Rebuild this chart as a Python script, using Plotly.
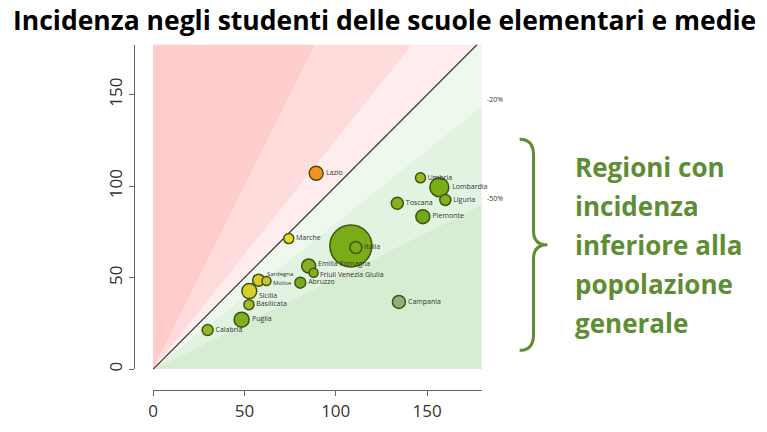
import plotly.graph_objects as go

W, H = 767, 432

# ---- data ----
regions = ["Lazio", "Marche", "", "Italia", "Umbria", "Lombardia", "Liguria", "Toscana",
           "Piemonte", "Emilia Romagna", "Friuli Venezia Giulia", "Abruzzo", "Sardegna",
           "Molise", "Sicilia", "Basilicata", "Puglia", "Calabria", "Campania"]
pop_incidence = [89.3, 74.3, 108.3, 111.0, 146.4, 156.7, 160.0, 133.7,
                 147.7, 85.2, 87.9, 80.6, 57.8, 62.1, 52.7, 52.5, 48.5, 29.9, 134.6]
student_incidence = [107.1, 71.4, 67.4, 66.5, 104.6, 99.5, 92.5, 90.7,
                     83.4, 56.4, 52.7, 47.3, 48.7, 48.2, 42.7, 35.3, 27.1, 21.4, 36.8]
bubble_size = [14, 10, 42, 12, 10, 19, 11, 12, 14, 14, 9, 11, 12, 9, 15, 10, 15, 11, 13]
point_colors = ["#f39222", "#ecd627", "#7aac17", "rgba(0,0,0,0)", "#9cb928", "#7aac18",
                "#84b020", "#86b01e", "#74a81c", "#86b022", "#84b022", "#7aab1e",
                "#d6cb2a", "#c8c42a", "#d8cf2a", "#a6b92a", "#7fae22", "#98b626", "#8fb07a"]

band_ratios = [0.5, 0.8, 1.0, 1.25, 2.0]
band_labels = {0.8: "-20%", 0.5: "-50%"}
band_colors = ["#d6edd4", "#e3f3e1", "#eef8ed", "#ffeded", "#ffdcdc", "#ffcccc"]

ax_max = 180
x_ticks = [0, 50, 100, 150]
y_ticks = [0, 50, 100, 150]

# label nudges (style only) for crowded labels: name -> (xshift, yshift, size)
label_nudge = {"Emilia Romagna": (0, 3, 7), "Friuli Venezia Giulia": (0, -2, 7),
               "Sardegna": (0, 6, 6), "Molise": (0, -2, 6), "Sicilia": (0, -4, 7)}

# ---- helpers (pixel -> paper) ----
def PX(px):
    return px / W

def PY(py):
    return 1 - py / H

fig = go.Figure()

# bands between ratio lines
def edge(r):
    if r is None:
        return [(0, ax_max)]
    if r * ax_max <= ax_max:
        return [(ax_max, r * ax_max)]
    return [(ax_max / r, ax_max)]

bounds = [0.0] + band_ratios + [None]
for i in range(len(bounds) - 1):
    lo, hi = bounds[i], bounds[i + 1]
    pts = [(0, 0)]
    if lo == 0:
        pts.append((ax_max, 0))
    else:
        pts += edge(lo)
    lo_pt = pts[-1]
    hi_pts = edge(hi)
    if lo_pt[0] == ax_max and hi_pts[0][1] == ax_max:
        pts.append((ax_max, ax_max))
    pts += hi_pts
    pts.append((0, 0))
    fig.add_trace(go.Scatter(x=[p[0] for p in pts], y=[p[1] for p in pts],
                             mode="lines", fill="toself", fillcolor=band_colors[i],
                             line=dict(width=0), hoverinfo="skip", showlegend=False))

# diagonal
fig.add_trace(go.Scatter(x=[0, ax_max], y=[0, ax_max], mode="lines",
                         line=dict(color="#3a3a3a", width=1.3),
                         hoverinfo="skip", showlegend=False))

# bubbles
trace_text = ["" if r in label_nudge else r for r in regions]
fig.add_trace(go.Scatter(
    x=pop_incidence, y=student_incidence, mode="markers+text",
    text=trace_text, textposition="middle right",
    textfont=dict(size=7, color="#333333", family="Open Sans"),
    marker=dict(size=bubble_size, color=point_colors, opacity=1,
                line=dict(color="#3c5510", width=1.5)),
    showlegend=False, cliponaxis=False))

for name, (dx, dy, fs) in label_nudge.items():
    k = regions.index(name)
    fig.add_annotation(x=pop_incidence[k], y=student_incidence[k], text=name,
                       showarrow=False, xanchor="left", yanchor="middle",
                       xshift=bubble_size[k] / 2 + 1 + dx, yshift=dy,
                       borderpad=0,
                       font=dict(size=fs, color="#333333", family="Open Sans"))

# band labels
for r, t in band_labels.items():
    fig.add_annotation(x=ax_max, y=r * ax_max, text=t, showarrow=False,
                       xanchor="left", yanchor="middle", xshift=3, yshift=6,
                       font=dict(size=7, color="#333333", family="Open Sans"))

# title
fig.add_annotation(x=PX(6), y=PY(20), xref="paper", yref="paper",
                   text="<b>Incidenza negli studenti delle scuole elementari e medie</b>",
                   showarrow=False, xanchor="left", yanchor="middle",
                   font=dict(size=26.5, color="#000000", family="Open Sans"))

# side text
side_lines = ["Regioni con", "incidenza", "inferiore alla", "popolazione", "generale"]
for i, s in enumerate(side_lines):
    fig.add_annotation(x=PX(572), y=PY(168 + i * 39.2), xref="paper", yref="paper",
                       text="<b>" + s + "</b>", showarrow=False,
                       xanchor="left", yanchor="middle",
                       font=dict(size=26, color="#5e8d35", family="Open Sans"))

# brace
xb0, xb1, xb2 = 518, 532, 546
yt, ym, yb = 140, 246, 352
path = (f"M {PX(xb0)},{PY(yt)} "
        f"Q {PX(xb1)},{PY(yt)} {PX(xb1)},{PY(yt + 16)} "
        f"L {PX(xb1)},{PY(ym - 14)} "
        f"Q {PX(xb1)},{PY(ym)} {PX(xb2)},{PY(ym)} "
        f"Q {PX(xb1)},{PY(ym)} {PX(xb1)},{PY(ym + 14)} "
        f"L {PX(xb1)},{PY(yb - 16)} "
        f"Q {PX(xb1)},{PY(yb)} {PX(xb0)},{PY(yb)}")
fig.add_shape(type="path", path=path, xref="paper", yref="paper",
              line=dict(color="#5e8d35", width=3))

fig.update_layout(
    width=W, height=H, margin=dict(l=0, r=0, t=0, b=0),
    paper_bgcolor="white", plot_bgcolor="white",
    xaxis=dict(domain=[PX(149), PX(480)], range=[0, ax_max], anchor="free",
               position=PY(392), showgrid=False, zeroline=False,
               showline=True, linecolor="#666666", linewidth=1,
               ticks="outside", ticklen=5, tickcolor="#666666",
               tickvals=x_ticks, ticktext=[str(v) for v in x_ticks],
               tickfont=dict(size=17, color="#333333", family="Open Sans")),
    yaxis=dict(domain=[PY(371), PY(45)], range=[0, ax_max * 326 / 331],
               anchor="free", position=PX(130), showgrid=False, zeroline=False,
               showline=True, linecolor="#666666", linewidth=1,
               ticks="outside", ticklen=5, tickcolor="#666666",
               tickvals=y_ticks, ticktext=[str(v) for v in y_ticks], tickangle=-90,
               tickfont=dict(size=17, color="#333333", family="Open Sans")),
)

fig.write_html("out.html")
